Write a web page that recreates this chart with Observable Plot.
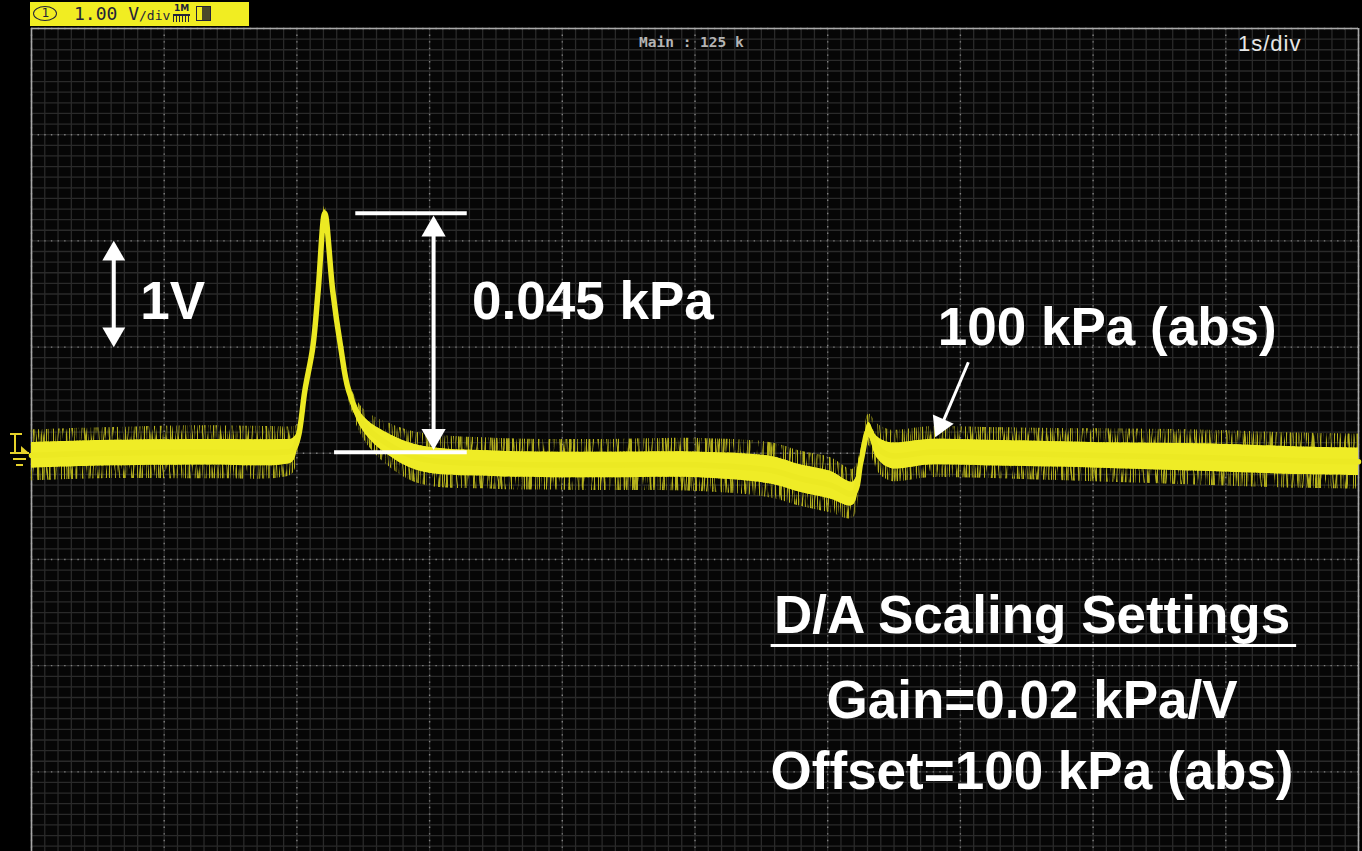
<!DOCTYPE html>
<html>
<head>
<meta charset="utf-8">
<script src="https://cdn.jsdelivr.net/npm/d3@7"></script>
<script src="https://cdn.jsdelivr.net/npm/@observablehq/plot@0.6"></script>
<style>
  html, body { margin: 0; padding: 0; background: #000; }
  #wrap { position: relative; width: 1362px; height: 851px; overflow: hidden; background: #000; }
  #wrap > svg { position: absolute; left: 0; top: 0; }
  .ov { position: absolute; white-space: nowrap; }
</style>
</head>
<body>
<div id="wrap"></div>
<script>
// ---- Trace data (time in s, 1 s/div; voltage in V, 1 V/div) ----
const times = [0, 0.52, 1.27, 1.88, 1.97, 2.01, 2.06, 2.12, 2.16, 2.21, 2.27, 2.33, 2.39, 2.50, 2.68, 2.93, 3.53, 4.29, 5.04, 5.57, 5.80, 6.02, 6.19, 6.25, 6.31, 6.37, 6.47, 6.77, 7.30, 8.06, 8.81, 9.56, 10.0];
const volts = [-0.02, 0.0, 0.01, 0.01, 0.03, 0.15, 0.59, 1.00, 1.53, 2.26, 1.53, 1.00, 0.59, 0.28, 0.09, -0.05, -0.10, -0.11, -0.11, -0.16, -0.24, -0.30, -0.38, -0.08, 0.22, 0.06, -0.02, 0.01, 0.0, -0.02, -0.04, -0.07, -0.08];
// half-width of the dense noise band and of the sparse spikes (V)
const noiseInner = [0.12, 0.12, 0.12, 0.12, 0.11, 0.07, 0.035, 0.035, 0.035, 0.035, 0.035, 0.04, 0.05, 0.07, 0.10, 0.12, 0.12, 0.12, 0.12, 0.13, 0.13, 0.13, 0.11, 0.05, 0.07, 0.10, 0.12, 0.12, 0.12, 0.12, 0.13, 0.13, 0.13];
const noiseOuter = [0.24, 0.24, 0.25, 0.24, 0.22, 0.12, 0.06, 0.06, 0.06, 0.07, 0.06, 0.07, 0.09, 0.14, 0.20, 0.24, 0.24, 0.24, 0.25, 0.26, 0.26, 0.26, 0.23, 0.11, 0.15, 0.22, 0.24, 0.24, 0.24, 0.25, 0.26, 0.26, 0.26];

// ---- Annotations (data coordinates) ----
const labelText = ["1V", "0.045 kPa", "100 kPa (abs)"];
const labelT = [0.82, 3.32, 6.83];
const labelV = [1.42, 1.42, 1.18];
const boxText = ["D/A Scaling Settings", "Gain=0.02 kPa/V", "Offset=100 kPa (abs)"];
const boxT = [7.54, 7.54, 7.54];
const boxV = [-1.53, -2.33, -3.00];

const trace = times.map((t, i) => ({t, v: volts[i], nI: noiseInner[i], nO: noiseOuter[i]}));
const labels = labelText.map((text, i) => ({text, t: labelT[i], v: labelV[i]}));
const box = boxText.map((text, i) => ({text, t: boxT[i], v: boxV[i]}));

const fineX = d3.range(0, 100.5, 1).map(d => d / 10);
const fineY = d3.range(-37, 40.5, 1).map(d => d / 10);
const majorX = d3.range(0, 11);
const majorY = d3.range(-3, 5);

const font = "'Liberation Sans', Arial, Helvetica, sans-serif";
const curve = "catmull-rom";

const chart = Plot.plot({
  width: 1362,
  height: 851,
  marginLeft: 31,
  marginRight: 4,
  marginTop: 28,
  marginBottom: 0,
  x: {domain: [0, 10], axis: null},
  y: {domain: [-3.75, 4], axis: null},
  style: {background: "transparent", overflow: "visible"},
  marks: [
    Plot.rect([0], {x1: 0, x2: 10, y1: -3.75, y2: 4, fill: "#060606"}),
    Plot.ruleX(fineX, {stroke: "#2a2a2a", strokeWidth: 1.3}),
    Plot.ruleY(fineY, {stroke: "#2a2a2a", strokeWidth: 1.3}),
    Plot.ruleX(majorX, {stroke: "#808080", strokeWidth: 1.4, strokeDasharray: "1.4,5.2"}),
    Plot.ruleY(majorY, {stroke: "#808080", strokeWidth: 1.4, strokeDasharray: "1.4,5.23"}),
    Plot.ruleX([0, 10], {stroke: "#a8a8a8", strokeWidth: 1.6}),
    Plot.ruleY([4], {stroke: "#a8a8a8", strokeWidth: 1.6}),
    // trace: sparse spikes, dense band, core
    Plot.areaY(trace, {x: "t", y1: d => d.v - d.nO, y2: d => d.v + d.nO, curve, fill: "#b4b01e"}),
    Plot.areaY(trace, {x: "t", y1: d => d.v - d.nI, y2: d => d.v + d.nI, curve, fill: "#d9d620"}),
    Plot.areaY(trace, {x: "t", y1: d => d.v - d.nI, y2: d => d.v + d.nI, curve, fill: "#efec26", fillOpacity: 0.999}),
    Plot.line(trace, {x: "t", y: "v", curve, stroke: "#ece923", strokeWidth: 5.5}),
    // 1V arrow
    Plot.link([0], {x1: 0.62, x2: 0.62, y1: 1.1, y2: 1.9, stroke: "white", strokeWidth: 4}),
    Plot.dot([0], {x: 0.62, y: 2.0, symbol: "triangle", r: 8.5, fill: "white", dy: 13}),
    Plot.dot([0], {x: 0.62, y: 1.0, symbol: "triangle", r: 8.5, fill: "white", rotate: 180, dy: -13}),
    // 0.045 kPa measurement
    Plot.link([0], {x1: 2.44, x2: 3.28, y1: 2.26, y2: 2.26, stroke: "white", strokeWidth: 4}),
    Plot.link([0], {x1: 2.28, x2: 3.28, y1: 0.01, y2: 0.01, stroke: "white", strokeWidth: 4}),
    Plot.link([0], {x1: 3.03, x2: 3.03, y1: 0.2, y2: 2.1, stroke: "white", strokeWidth: 4}),
    Plot.dot([0], {x: 3.03, y: 2.24, symbol: "triangle", r: 9, fill: "white", dy: 14}),
    Plot.dot([0], {x: 3.03, y: 0.03, symbol: "triangle", r: 9, fill: "white", rotate: 180, dy: -14}),
    // 100 kPa (abs) arrow
    Plot.link([0], {x1: 7.06, x2: 6.86, y1: 0.857, y2: 0.27, stroke: "white", strokeWidth: 3}),
    Plot.dot([0], {x: 6.81, y: 0.15, symbol: "triangle", r: 8.5, fill: "white", rotate: 204, dx: 5.4, dy: -12.2}),
    // labels
    Plot.text(labels, {x: "t", y: "v", text: "text", fill: "white", fontSize: 53, fontWeight: "bold", fontFamily: font, textAnchor: "start", lineAnchor: "middle"}),
    Plot.text(box, {x: "t", y: "v", text: "text", fill: "white", fontSize: 53, fontWeight: "bold", fontFamily: font, textAnchor: "middle", lineAnchor: "middle"}),
    Plot.link([0], {x1: 5.57, x2: 9.53, y1: -1.81, y2: -1.81, stroke: "white", strokeWidth: 3})
  ]
});

// noise texture (vertical streaks) applied as a style filter to the trace layers
const svg = d3.select(chart);
const defs = svg.insert("defs", ":first-child");
function streakFilter(id, slope, thr, seed) {
  const f = defs.append("filter").attr("id", id)
    .attr("filterUnits", "userSpaceOnUse").attr("x", 0).attr("y", 0).attr("width", 1362).attr("height", 851);
  f.append("feTurbulence").attr("type", "fractalNoise").attr("baseFrequency", "0.75 0.03").attr("numOctaves", 2).attr("seed", seed).attr("result", "n");
  f.append("feColorMatrix").attr("in", "n").attr("type", "matrix")
    .attr("values", `0 0 0 0 0  0 0 0 0 0  0 0 0 0 0  ${slope} 0 0 0 ${-slope * thr}`).attr("result", "a");
  f.append("feComposite").attr("in", "SourceGraphic").attr("in2", "a").attr("operator", "in");
}
streakFilter("spikes", 6, 0.47, 7);
streakFilter("edge", 6, 0.40, 11);
svg.selectAll('g[fill="#b4b01e"]').attr("filter", "url(#spikes)");
svg.selectAll('g[fill="#d9d620"]').attr("filter", "url(#edge)").attr("transform", "translate(0,0)");
// inner solid core: slightly narrower than the dense band so that its edges look fuzzy
svg.selectAll('g[fill="#efec26"]').attr("transform", null).each(function () {
  const g = d3.select(this);
  g.attr("fill-opacity", 1);
  g.selectAll("path").attr("stroke", "none");
});

const wrap = document.getElementById("wrap");
wrap.appendChild(chart);

// ---- Scope screen furniture (outside the graticule) ----
wrap.insertAdjacentHTML("beforeend", `
<div class="ov" style="left:30px;top:2px;width:219px;height:24px;background:#f1ed22;"></div>
<div class="ov" style="left:33px;top:6px;width:22px;height:13px;border:1.6px solid #23233a;border-radius:50%;"></div>
<div class="ov" style="left:33px;top:4px;width:25px;text-align:center;font:12px 'DejaVu Sans';color:#23233a;line-height:19px;">1</div>
<div class="ov" style="left:74px;top:1px;font:18px 'DejaVu Sans Mono';color:#23233a;line-height:26px;">1.00 V<span style="font-size:13px;">/div</span></div>
<div class="ov" style="left:174px;top:3px;font:bold 9px 'DejaVu Sans';color:#23233a;line-height:10px;">1M</div>
<div class="ov" style="left:173px;top:14px;width:17px;height:6px;border-top:2px solid #23233a;background:repeating-linear-gradient(90deg,#23233a 0 1px,transparent 1px 3px);"></div>
<div class="ov" style="left:196px;top:6px;width:13px;height:13px;border:1.6px solid #23233a;background:linear-gradient(90deg,transparent 0 40%,#4a4a2a 40% 100%);"></div>
<div class="ov" style="left:639px;top:32px;font:bold 14.5px 'DejaVu Sans Mono';color:#b4b4b4;line-height:20px;">Main : 125 k</div>
<div class="ov" style="left:1238px;top:30px;font:22px 'Liberation Sans', Arial;letter-spacing:1px;color:#e6e6e6;line-height:28px;">1s/div</div>
<svg class="ov" style="left:0;top:420px;" width="31" height="60">
  <g stroke="#e6d22a" stroke-width="2" fill="none">
    <line x1="10" y1="14" x2="22" y2="14"/>
    <line x1="15" y1="14" x2="15" y2="32"/>
    <line x1="10" y1="33" x2="29" y2="33"/>
    <line x1="13" y1="39" x2="26" y2="39"/>
    <line x1="16" y1="45" x2="23" y2="45"/>
  </g>
  <path d="M21,26 L29,33 L21,33 Z" fill="#e6d22a"/>
</svg>
`);
</script>
</body>
</html>
